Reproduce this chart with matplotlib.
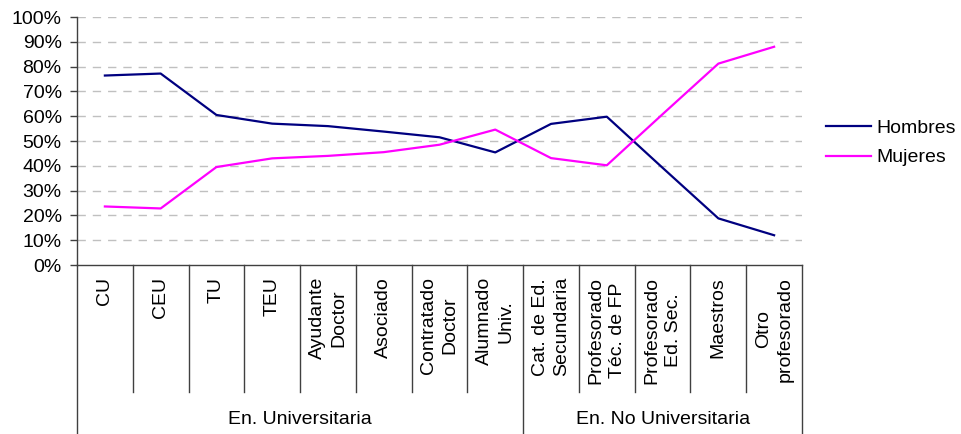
import matplotlib
matplotlib.use('Agg')
import matplotlib.pyplot as plt
import numpy as np

categorias = ['CU', 'CEU', 'TU', 'TEU', 'Ayudante\nDoctor', 'Asociado',
              'Contratado\nDoctor', 'Alumnado\nUniv.', 'Cat. de Ed.\nSecundaria',
              'Profesorado\nTéc. de FP', 'Profesorado\nEd. Sec.', 'Maestros',
              'Otro\nprofesorado']
hombres = [76.4, 77.2, 60.5, 57.0, 56.0, 53.8, 51.5, 45.4, 56.9, 59.8, 39.2, 18.8, 12.0]
mujeres = [23.6, 22.8, 39.5, 43.0, 44.0, 45.5, 48.5, 54.6, 43.1, 40.2, 60.8, 81.2, 88.0]
grupos = ['En. Universitaria', 'En. No Universitaria']
tam_grupos = [8, 5]

plt.rcParams['font.family'] = ['Liberation Sans', 'DejaVu Sans']
fs = 14

fig = plt.figure(figsize=(9.62, 4.34), dpi=100)
ax = fig.add_axes([77/962, 1 - 265/434, 725/962, 248/434])

x = np.arange(len(categorias))
ax.plot(x, hombres, color='#000080', linewidth=1.6, label='Hombres')
ax.plot(x, mujeres, color='#FF00FF', linewidth=1.6, label='Mujeres')

ax.set_xlim(-0.5, len(categorias) - 0.5)
ax.set_ylim(0, 100)
ax.set_yticks(np.arange(0, 101, 10))
ax.set_yticklabels([f'{v}%' for v in range(0, 101, 10)], fontsize=fs)
ax.tick_params(axis='y', direction='out', length=5, width=1, pad=6, color='#404040')
ax.set_xticks([])

for v in range(10, 101, 10):
    ax.axhline(v, color='#c0c0c0', linewidth=1, linestyle=(0, (6, 5)), zorder=0)

for s in ['top', 'right']:
    ax.spines[s].set_visible(False)
for s in ['left', 'bottom']:
    ax.spines[s].set_color('#404040')
    ax.spines[s].set_linewidth(1)

# separadores de categorias y etiquetas bajo el eje
tr = ax.get_xaxis_transform()
bordes = np.cumsum([0] + tam_grupos) - 0.5
for i in range(len(categorias) + 1):
    xb = i - 0.5
    largo = -169/248 if xb in bordes else -127/248
    ax.plot([xb, xb], [0, largo], transform=tr, color='#404040',
            linewidth=1, clip_on=False)

for i, c in enumerate(categorias):
    ax.text(i, -12/248, c, transform=tr, rotation=90, ha='center', va='top',
            multialignment='center', fontsize=fs, linespacing=1.35)

for j, g in enumerate(grupos):
    xc = (bordes[j] + bordes[j + 1]) / 2
    ax.text(xc, -155/248, g, transform=tr, ha='center', va='center', fontsize=fs)

fig.legend(loc='center left', bbox_to_anchor=(826/962, 1 - 143/434), frameon=False,
           fontsize=fs, handlelength=2.3, handletextpad=0.3, labelspacing=0.6,
           borderaxespad=0, borderpad=0)

fig.savefig('out.png', dpi=100)
